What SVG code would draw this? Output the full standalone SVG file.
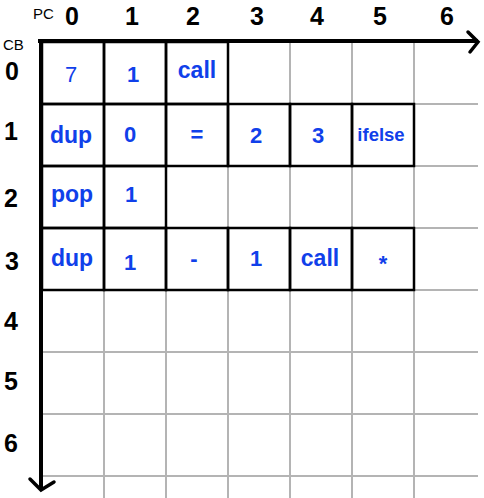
<svg xmlns="http://www.w3.org/2000/svg" width="484" height="498" viewBox="0 0 484 498">
<style>
.grid line{stroke:#b4b4b4;stroke-width:2}
.cell rect{fill:none;stroke:#000;stroke-width:2.5}
.cell text{font-family:"Liberation Sans",Arial,sans-serif;font-size:22px;font-weight:bold;fill:#1040ea;text-anchor:middle}
.cell text.w{font-size:23px}
.hd{font-family:"Liberation Sans",Arial,sans-serif;font-size:25px;font-weight:bold;fill:#000;text-anchor:middle}
.sm{font-family:"Liberation Sans",Arial,sans-serif;font-size:15px;fill:#000}
.axis{stroke:#000;stroke-width:4;fill:none;stroke-linecap:square}
.head{stroke:#000;stroke-width:3.5;fill:none;stroke-linecap:round;stroke-linejoin:miter}
</style>
<rect width="484" height="498" fill="#fff"/>
<g class="grid">
<line x1="104" y1="42" x2="104" y2="498"/>
<line x1="166" y1="42" x2="166" y2="498"/>
<line x1="228" y1="42" x2="228" y2="498"/>
<line x1="290" y1="42" x2="290" y2="498"/>
<line x1="352" y1="42" x2="352" y2="498"/>
<line x1="414" y1="42" x2="414" y2="498"/>
<line x1="42" y1="104" x2="478" y2="104"/>
<line x1="42" y1="166" x2="478" y2="166"/>
<line x1="42" y1="228" x2="478" y2="228"/>
<line x1="42" y1="290" x2="478" y2="290"/>
<line x1="42" y1="352" x2="478" y2="352"/>
<line x1="42" y1="414" x2="478" y2="414"/>
<line x1="42" y1="476" x2="478" y2="476"/>
</g>
<g id="labels">
<text class="sm" x="33" y="19">PC</text>
<text class="sm" x="3" y="50">CB</text>
<text class="hd" x="72" y="25">0</text>
<text class="hd" x="132" y="25">1</text>
<text class="hd" x="193" y="25">2</text>
<text class="hd" x="257" y="25">3</text>
<text class="hd" x="317" y="25">4</text>
<text class="hd" x="380" y="25">5</text>
<text class="hd" x="447" y="25">6</text>
<text class="hd" x="12" y="80">0</text>
<text class="hd" x="11" y="140">1</text>
<text class="hd" x="11" y="207">2</text>
<text class="hd" x="12" y="270">3</text>
<text class="hd" x="11" y="330">4</text>
<text class="hd" x="11" y="390">5</text>
<text class="hd" x="11" y="452">6</text>
</g>
<g id="cell-0-0" class="cell"><rect x="42" y="42" width="62" height="62"/><text x="71" y="82" style="font-weight:normal">7</text></g>
<g id="cell-0-1" class="cell"><rect x="104" y="42" width="62" height="62"/><text x="133" y="82">1</text></g>
<g id="cell-0-2" class="cell"><rect x="166" y="42" width="62" height="62"/><text class="w" x="197" y="78">call</text></g>
<g id="cell-1-0" class="cell"><rect x="42" y="104" width="62" height="62"/><text class="w" x="71" y="143">dup</text></g>
<g id="cell-1-1" class="cell"><rect x="104" y="104" width="62" height="62"/><text x="130" y="142">0</text></g>
<g id="cell-1-2" class="cell"><rect x="166" y="104" width="62" height="62"/><text x="197" y="142">=</text></g>
<g id="cell-1-3" class="cell"><rect x="228" y="104" width="62" height="62"/><text x="256" y="143">2</text></g>
<g id="cell-1-4" class="cell"><rect x="290" y="104" width="62" height="62"/><text x="318" y="143">3</text></g>
<g id="cell-1-5" class="cell"><rect x="352" y="104" width="62" height="62"/><text x="381" y="141" style="font-size:18.5px">ifelse</text></g>
<g id="cell-2-0" class="cell"><rect x="42" y="166" width="62" height="62"/><text class="w" x="72" y="202">pop</text></g>
<g id="cell-2-1" class="cell"><rect x="104" y="166" width="62" height="62"/><text x="131" y="202">1</text></g>
<g id="cell-3-0" class="cell"><rect x="42" y="228" width="62" height="62"/><text class="w" x="72" y="266">dup</text></g>
<g id="cell-3-1" class="cell"><rect x="104" y="228" width="62" height="62"/><text x="130" y="270">1</text></g>
<g id="cell-3-2" class="cell"><rect x="166" y="228" width="62" height="62"/><text x="194" y="266">-</text></g>
<g id="cell-3-3" class="cell"><rect x="228" y="228" width="62" height="62"/><text x="256" y="266">1</text></g>
<g id="cell-3-4" class="cell"><rect x="290" y="228" width="62" height="62"/><text class="w" x="320" y="266">call</text></g>
<g id="cell-3-5" class="cell"><rect x="352" y="228" width="62" height="62"/><text x="383" y="271">*</text></g>
<g id="connectors">
<line class="axis" x1="40" y1="41" x2="476" y2="41"/>
<polyline class="head" points="468,32 478,42 470,52"/>
<line class="axis" x1="41" y1="41" x2="41" y2="488"/>
<polyline class="head" points="30,479 41,490 54,482"/>
</g>
</svg>
